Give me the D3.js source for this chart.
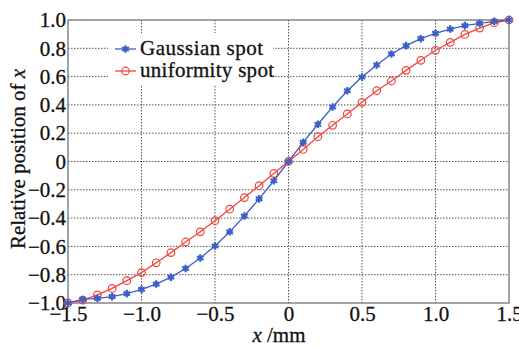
<!DOCTYPE html>
<html>
<head>
<meta charset="utf-8">
<script src="https://cdn.jsdelivr.net/npm/d3@7"></script>
<style>
  body { margin: 0; background: #fff; }
  text { font-family: "Liberation Serif", serif; fill: #111; stroke: #111; stroke-width: 0.3px; }
</style>
</head>
<body>
<div id="chart"></div>
<script>
// x positions (mm)
const xValues = [-1.5, -1.4, -1.3, -1.2, -1.1, -1.0, -0.9, -0.8, -0.7, -0.6, -0.5, -0.4, -0.3, -0.2, -0.1,
  0, 0.1, 0.2, 0.3, 0.4, 0.5, 0.6, 0.7, 0.8, 0.9, 1.0, 1.1, 1.2, 1.3, 1.4, 1.5];

const gaussian = [-1.0, -0.975, -0.967, -0.955, -0.934, -0.904, -0.866, -0.817, -0.756, -0.682, -0.597, -0.497, -0.385, -0.264, -0.136,
  0, 0.135, 0.263, 0.385, 0.50, 0.597, 0.682, 0.76, 0.819, 0.868, 0.906, 0.936, 0.96, 0.976, 0.99, 1.0];

const uniform = [-1.0, -0.98, -0.943, -0.897, -0.842, -0.785, -0.716, -0.644, -0.569, -0.497, -0.418, -0.337, -0.255, -0.171, -0.084,
  0, 0.085, 0.175, 0.256, 0.336, 0.418, 0.50, 0.569, 0.644, 0.715, 0.786, 0.842, 0.898, 0.943, 0.981, 1.0];

const xTicks = [-1.5, -1.0, -0.5, 0, 0.5, 1.0, 1.5];
const yTicks = [-1.0, -0.8, -0.6, -0.4, -0.2, 0, 0.2, 0.4, 0.6, 0.8, 1.0];
const seriesNames = ["Gaussian spot", "uniformity spot"];

const width = 519, height = 346;
const margin = {left: 68, right: 10, top: 20, bottom: 43};
const fontSize = 21;

const blue = "#3b5fc4", red = "#f2453d";

const svg = d3.select("#chart").append("svg")
  .attr("width", width)
  .attr("height", height);

const x = d3.scaleLinear().domain([-1.5, 1.5]).range([margin.left, width - margin.right]);
const y = d3.scaleLinear().domain([-1, 1]).range([height - margin.bottom, margin.top]);

const fmt = d => d === 0 ? "0" : d3.format(".1f")(d).replace("-", "\u2212");

// grid
const grid = svg.append("g");
grid.selectAll("line.vx")
  .data(xTicks.slice(1, -1))
  .enter().append("line")
  .attr("x1", d => x(d)).attr("x2", d => x(d))
  .attr("y1", y(1)).attr("y2", y(-1))
  .attr("stroke", "#555").attr("stroke-width", 1)
  .attr("stroke-dasharray", "1.5,1.5");
grid.selectAll("line.hy")
  .data(yTicks.slice(1, -1))
  .enter().append("line")
  .attr("x1", x(-1.5)).attr("x2", x(1.5))
  .attr("y1", d => y(d)).attr("y2", d => y(d))
  .attr("stroke", "#555").attr("stroke-width", 1)
  .attr("stroke-dasharray", "1.5,1.5");

// legend background covers the grid
svg.append("rect")
  .attr("x", 108).attr("y", 33)
  .attr("width", 165).attr("height", 53)
  .attr("fill", "#fff");

// frame
svg.append("rect")
  .attr("x", x(-1.5)).attr("y", y(1))
  .attr("width", x(1.5) - x(-1.5)).attr("height", y(-1) - y(1))
  .attr("fill", "none").attr("stroke", "#666").attr("stroke-width", 1.2);

// axes
const xAxis = svg.append("g")
  .attr("transform", "translate(0," + y(-1) + ")")
  .call(d3.axisBottom(x).tickValues(xTicks).tickFormat(fmt).tickSize(0).tickPadding(3));
xAxis.select(".domain").remove();
xAxis.selectAll("text").attr("font-size", fontSize);

const yAxis = svg.append("g")
  .attr("transform", "translate(" + x(-1.5) + ",0)")
  .call(d3.axisLeft(y).tickValues(yTicks).tickFormat(fmt).tickSize(0).tickPadding(2));
yAxis.select(".domain").remove();
yAxis.selectAll("text").attr("font-size", fontSize);

// axis titles
const xt = svg.append("text")
  .attr("x", 279).attr("y", 342)
  .attr("text-anchor", "middle")
  .attr("font-size", fontSize);
xt.append("tspan").attr("font-style", "italic").text("x");
xt.append("tspan").text(" /mm");

const yt = svg.append("text")
  .attr("transform", "translate(25,159) rotate(-90)")
  .attr("text-anchor", "middle")
  .attr("font-size", fontSize);
yt.append("tspan").text("Relative position of ");
yt.append("tspan").attr("font-style", "italic").text("x");

// series
const line = d3.line().x(d => x(d[0])).y(d => y(d[1]));
const gData = xValues.map((v, i) => [v, gaussian[i]]);
const uData = xValues.map((v, i) => [v, uniform[i]]);

svg.append("path").datum(uData)
  .attr("d", line).attr("fill", "none")
  .attr("stroke", red).attr("stroke-width", 1.3);
svg.append("path").datum(gData)
  .attr("d", line).attr("fill", "none")
  .attr("stroke", blue).attr("stroke-width", 1.3);

const star = d3.symbol(d3.symbolAsterisk, 40);

svg.append("g").selectAll("circle")
  .data(uData)
  .enter().append("circle")
  .attr("cx", d => x(d[0])).attr("cy", d => y(d[1]))
  .attr("r", 3.8)
  .attr("fill", "none").attr("stroke", red).attr("stroke-width", 1.2);

svg.append("g").selectAll("path")
  .data(gData)
  .enter().append("path")
  .attr("d", star)
  .attr("transform", d => "translate(" + x(d[0]) + "," + y(d[1]) + ")")
  .attr("fill", "none").attr("stroke", blue).attr("stroke-width", 2.2);

// legend
const legend = svg.append("g");
[[blue, 49], [red, 71]].forEach(function (s, i) {
  legend.append("line")
    .attr("x1", 115).attr("x2", 136)
    .attr("y1", s[1]).attr("y2", s[1])
    .attr("stroke", s[0]).attr("stroke-width", 1.3);
  if (i === 0) {
    legend.append("path").attr("d", star)
      .attr("transform", "translate(125.5," + s[1] + ")")
      .attr("fill", "none").attr("stroke", blue).attr("stroke-width", 2.2);
  } else {
    legend.append("circle").attr("cx", 125.5).attr("cy", s[1]).attr("r", 3.8)
      .attr("fill", "none").attr("stroke", red).attr("stroke-width", 1.2);
  }
  legend.append("text")
    .attr("x", 140).attr("y", s[1] + 6)
    .attr("font-size", 21)
    .attr("textLength", i === 0 ? 123 : 134)
    .text(seriesNames[i]);
});
</script>
</body>
</html>
